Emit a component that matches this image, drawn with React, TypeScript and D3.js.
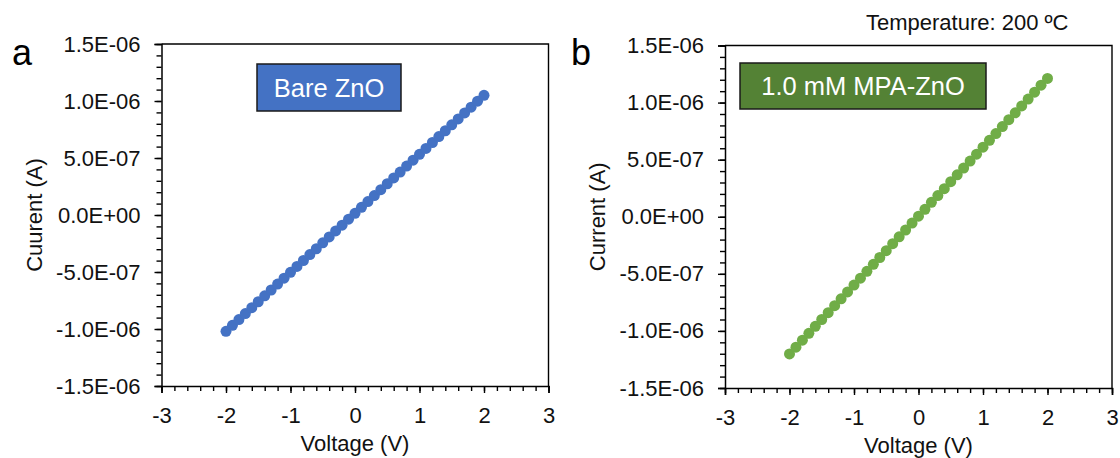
import React, { useEffect, useRef } from 'react';
import * as d3 from 'd3';

// bias voltage sweep (V)
const voltage = [
  -2.0, -1.9, -1.8, -1.7, -1.6, -1.5, -1.4, -1.3, -1.2, -1.1, -1.0,
  -0.9, -0.8, -0.7, -0.6, -0.5, -0.4, -0.3, -0.2, -0.1, 0.0,
  0.1, 0.2, 0.3, 0.4, 0.5, 0.6, 0.7, 0.8, 0.9, 1.0,
  1.1, 1.2, 1.3, 1.4, 1.5, 1.6, 1.7, 1.8, 1.9, 2.0,
];

// current in microamps
const bareZnO = [
  -1.020, -0.968, -0.917, -0.865, -0.813, -0.761, -0.709, -0.658, -0.606, -0.554, -0.503,
  -0.451, -0.399, -0.347, -0.296, -0.244, -0.192, -0.140, -0.089, -0.037, 0.015,
  0.067, 0.118, 0.170, 0.222, 0.274, 0.325, 0.377, 0.429, 0.481, 0.532,
  0.584, 0.636, 0.688, 0.739, 0.791, 0.843, 0.895, 0.946, 0.998, 1.050,
];

const mpaZnO = [
  -1.202, -1.142, -1.081, -1.021, -0.960, -0.900, -0.840, -0.779, -0.719, -0.659, -0.598,
  -0.538, -0.478, -0.417, -0.357, -0.297, -0.236, -0.176, -0.116, -0.055, 0.005,
  0.065, 0.126, 0.186, 0.246, 0.307, 0.367, 0.427, 0.488, 0.548, 0.609,
  0.669, 0.729, 0.790, 0.850, 0.910, 0.971, 1.031, 1.091, 1.152, 1.212,
];

const xTicks = [-3, -2, -1, 0, 1, 2, 3];
const yTicks = [-1.5e-6, -1.0e-6, -0.5e-6, 0, 0.5e-6, 1.0e-6, 1.5e-6];
const yTickLabels = ['-1.5E-06', '-1.0E-06', '-5.0E-07', '0.0E+00', '5.0E-07', '1.0E-06', '1.5E-06'];

const FONT = '"Liberation Sans", Arial, sans-serif';

function Panel({ data, left, top, bottom, color, boxColor, boxText, box, letter, yTitle, xTitleY }) {
  const ref = useRef(null);
  const right = left + 387;

  useEffect(() => {
    const g = d3.select(ref.current);
    g.selectAll('*').remove();

    const x = d3.scaleLinear().domain([-3, 3]).range([left, right]);
    const y = d3.scaleLinear().domain([-1.5e-6, 1.5e-6]).range([bottom, top]);

    // minor ticks first
    g.append('g')
      .attr('transform', `translate(0,${bottom})`)
      .call(d3.axisBottom(x).tickValues(d3.range(-3, 3.01, 0.2)).tickSize(5).tickFormat(() => ''))
      .call((s) => s.select('.domain').remove());
    g.append('g')
      .attr('transform', `translate(${left},0)`)
      .call(d3.axisLeft(y).tickValues(d3.range(-15, 15.1, 1).map((d) => d * 1e-7)).tickSize(5).tickFormat(() => ''))
      .call((s) => s.select('.domain').remove());

    const xa = g.append('g')
      .attr('transform', `translate(0,${bottom})`)
      .call(d3.axisBottom(x).tickValues(xTicks).tickSize(7).tickPadding(14).tickFormat((d) => String(d)));
    const ya = g.append('g')
      .attr('transform', `translate(${left},0)`)
      .call(d3.axisLeft(y).tickValues(yTicks).tickSize(7).tickPadding(14)
        .tickFormat((d, i) => yTickLabels[i]));

    [xa, ya].forEach((a) => {
      a.selectAll('text').attr('font-family', FONT).attr('font-size', 22).attr('fill', '#111');
      a.select('.domain').attr('stroke-width', 1.5);
    });
    g.selectAll('.tick line').attr('stroke', '#000').attr('stroke-width', 1.4);

    // frame top/right
    g.append('path')
      .attr('d', `M${left},${top}H${right}V${bottom}`)
      .attr('fill', 'none')
      .attr('stroke', '#000')
      .attr('stroke-width', 1.4);

    g.append('g')
      .selectAll('circle')
      .data(voltage)
      .join('circle')
      .attr('cx', (d) => x(d))
      .attr('cy', (d, i) => y(data[i] * 1e-6))
      .attr('r', 5.5)
      .attr('fill', color);
  }, []);

  const mid = (left + right) / 2;
  return (
    <g>
      <g ref={ref} />
      <rect x={box[0]} y={box[1]} width={box[2]} height={box[3]} fill={boxColor} stroke="#1a1a1a" strokeWidth={1.5} />
      <text x={box[0] + box[2] / 2} y={box[1] + box[3] / 2 + 9} textAnchor="middle" fontFamily={FONT} fontSize={25.5} fill="#fff">
        {boxText}
      </text>
      <text x={mid} y={xTitleY} textAnchor="middle" fontFamily={FONT} fontSize={22} fill="#111">Voltage (V)</text>
      <text transform={`translate(${left - 120},${(top + bottom) / 2}) rotate(-90)`} textAnchor="middle"
        fontFamily={FONT} fontSize={22} fill="#111">{yTitle}</text>
      <text x={letter[0]} y={letter[1]} fontFamily={FONT} fontSize={36} fill="#000">{letter[2]}</text>
    </g>
  );
}

export default function App() {
  return (
    <svg width={1120} height={458} style={{ position: 'absolute', left: 0, top: 0, background: '#fff' }}>
      <Panel data={bareZnO} left={161.5} top={44} bottom={386} color="#4472C4" boxColor="#4472C4"
        boxText="Bare ZnO" box={[257, 64, 144, 47]} letter={[12, 65, 'a']} yTitle="Cuurent (A)" xTitleY={451} />
      <Panel data={mpaZnO} left={725} top={45.5} bottom={388} color="#70AD47" boxColor="#548235"
        boxText="1.0 mM MPA-ZnO" box={[740, 63, 246, 46]} letter={[571, 65, 'b']} yTitle="Current (A)" xTitleY={453} />
      <text x={866} y={30} fontFamily={FONT} fontSize={22} fill="#111">Temperature: 200 ºC</text>
    </svg>
  );
}
